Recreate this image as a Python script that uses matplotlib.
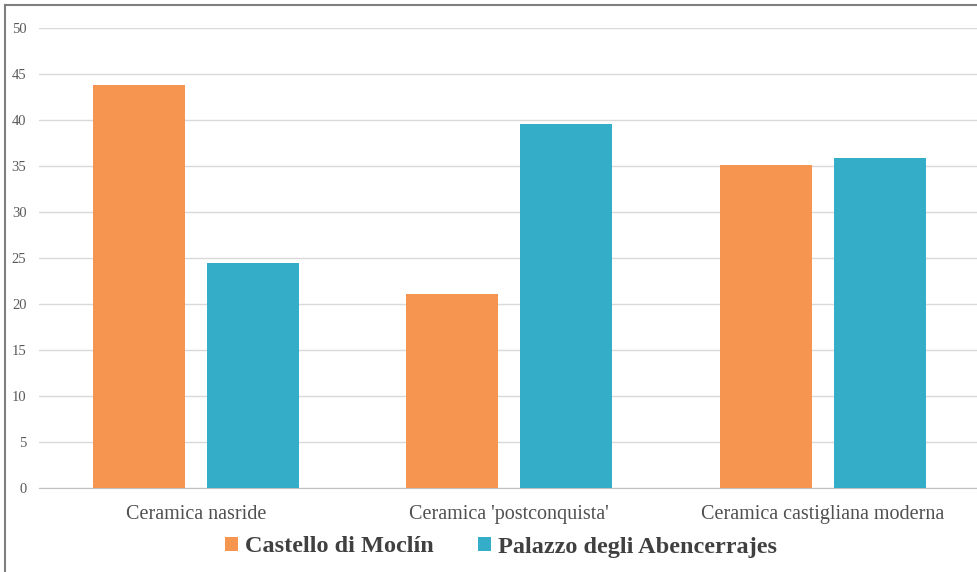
import matplotlib.pyplot as plt
import matplotlib as mpl
from matplotlib.lines import Line2D
import numpy as np

# data
categories = ["Ceramica nasride", "Ceramica 'postconquista'", "Ceramica castigliana moderna"]
series_names = ["Castello di Moclín", "Palazzo degli Abencerrajes"]
moclin = [43.8, 21.1, 35.1]
abencerrajes = [24.5, 39.6, 35.9]

orange = '#F5954F'
blue = '#33ADC8'

mpl.rcParams['font.family'] = ['Liberation Serif', 'DejaVu Serif']

fig = plt.figure(figsize=(9.78, 5.72), dpi=100)
W, H = 978, 572
ax = fig.add_axes([39 / W, 1 - 488 / H, (979.5 - 39) / W, (488 - 28) / H])

x = np.arange(len(categories))
width = 0.293
off = 0.182
ax.bar(x - off, moclin, width, color=orange, label=series_names[0], zorder=3)
ax.bar(x + off, abencerrajes, width, color=blue, label=series_names[1], zorder=3)

ax.set_xlim(-0.5, 2.5)
ax.set_ylim(0, 50)
ax.set_yticks(range(0, 51, 5))
ax.grid(axis='y', color='#d9d9d9', linewidth=1, zorder=0)
for s in ['top', 'right', 'left']:
    ax.spines[s].set_visible(False)
ax.spines['bottom'].set_color('#bfbfbf')
ax.tick_params(axis='y', length=0, labelsize=10.5, labelcolor='#595959', pad=9)
ax.tick_params(axis='x', length=0, labelsize=14.5, labelcolor='#505050', pad=12)
ax.set_xticks(x)
ax.set_xticklabels(categories)

handles, labels = ax.get_legend_handles_labels()
fig.legend(handles=handles, labels=labels, loc='center', bbox_to_anchor=(501 / W, 1 - 547 / H),
           ncol=2, frameon=False, handlelength=0.55, handleheight=0.55, handletextpad=0.3,
           columnspacing=1.8, prop={'size': 17.5, 'weight': 'bold'}, labelcolor='#404040')

# outer frame (left and top edges visible)
fig.add_artist(Line2D([5 / W, 5 / W], [0, 1 - 5 / H], color='#7f7f7f', linewidth=1.5))
fig.add_artist(Line2D([5 / W, 1], [1 - 5 / H, 1 - 5 / H], color='#7f7f7f', linewidth=1.5))

fig.savefig('out.png', dpi=100)
